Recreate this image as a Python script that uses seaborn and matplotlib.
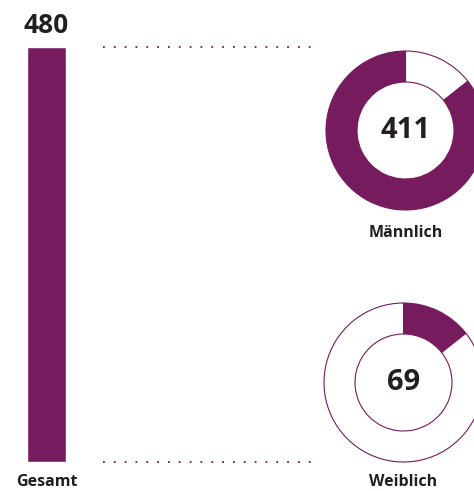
"""Gesamt / Männlich / Weiblich: bar plus two donuts."""

import matplotlib
matplotlib.use("Agg")
import matplotlib.pyplot as plt
import seaborn as sns

categories = ["Gesamt"]
totals = [480]
groups = ["Männlich", "Weiblich"]
group_values = [411, 69]

PURPLE = "#761b5e"
DARK = "#231f20"

sns.set_theme(style="white")
plt.rcParams["font.family"] = ["Open Sans", "DejaVu Sans"]

W, H = 474, 491
fig = plt.figure(figsize=(W / 100, H / 100), dpi=100)


def px_axes(left, top, width, height):
    """Axes from pixel box (top measured from the top edge)."""
    return fig.add_axes([left / W, (H - top - height) / H, width / W, height / H])


# total bar, axes extended to the right to carry the dotted guide lines
ax = px_axes(27, 47, 290, 415)
sns.barplot(x=categories, y=totals, color=PURPLE, width=1.0, saturation=1, ax=ax)
ax.set_xlim(-0.5, -0.5 + 290 / 39)
ax.set_ylim(0, totals[0])
for val in (totals[0], 0):
    ax.axhline(val, xmin=0.262, xmax=0.986, color=PURPLE, lw=1.3,
               ls=(0, (1, 5)), clip_on=False)
ax.annotate(f"{totals[0]}", (0, totals[0]), xytext=(0, 10), textcoords="offset points",
            ha="center", va="baseline", fontsize=19, fontweight="bold", color=DARK)
ax.annotate(categories[0], (0, 0), xytext=(0, -17), textcoords="offset points",
            ha="center", va="baseline", fontsize=11.5, fontweight="bold", color=DARK)
ax.axis("off")

# donuts
boxes = [(326, 51), (324, 303)]
label_gap = [-19.5, -17]
for i, (name, val) in enumerate(zip(groups, group_values)):
    other = totals[0] - val
    dax = px_axes(boxes[i][0], boxes[i][1], 159, 159)
    if i == 0:
        sizes, colors = [other, val], ["white", PURPLE]
    else:
        sizes, colors = [val, other], [PURPLE, "white"]
    dax.pie(sizes, colors=colors, startangle=90, counterclock=False,
            wedgeprops=dict(width=0.39, edgecolor=PURPLE, linewidth=0.8))
    dax.set_xlim(-1, 1)
    dax.set_ylim(-1, 1)
    dax.set_aspect("equal")
    dax.text(0, 0, f"{val}", ha="center", va="center", fontsize=21,
             fontweight="bold", color=DARK)
    dax.annotate(name, (0, -1), xytext=(0, label_gap[i]), textcoords="offset points",
                 ha="center", va="baseline", fontsize=11.5, fontweight="bold", color=DARK)

plt.savefig("out.png", dpi=100)
plt.close()
